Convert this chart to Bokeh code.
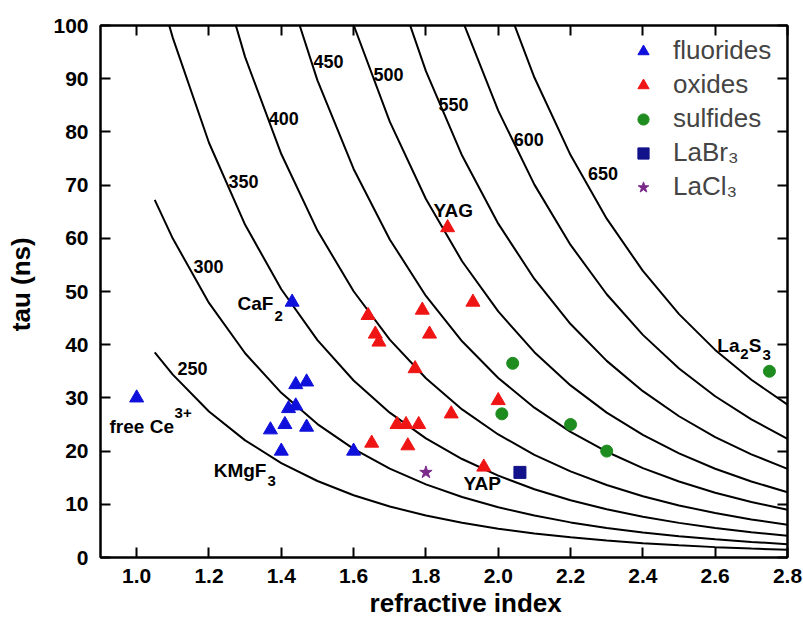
from bokeh.plotting import figure
from bokeh.models import Range1d, LinearAxis, FixedTicker, PrintfTickFormatter, Legend, LegendItem
from bokeh.core.properties import value
from bokeh.embed import file_html
from bokeh.resources import INLINE

# ---------------- data ----------------
x_ticks = [1.0, 1.2, 1.4, 1.6, 1.8, 2.0, 2.2, 2.4, 2.6, 2.8]
y_ticks = [0, 10, 20, 30, 40, 50, 60, 70, 80, 90, 100]

# refractive index grid on which the iso-wavelength curves were read
n_grid = [1.05, 1.1, 1.2, 1.3, 1.4, 1.5, 1.6, 1.7, 1.8, 1.9, 2.0,
          2.1, 2.2, 2.3, 2.4, 2.5, 2.6, 2.7, 2.8]

# tau (ns) of each curve, aligned to the tail of n_grid
tau_250 = [38.56, 34.38, 27.44, 22.02, 17.75, 14.38, 11.71, 9.59, 7.88, 6.52,
           5.41, 4.52, 3.79, 3.19, 2.70, 2.29, 1.95, 1.67, 1.44]
tau_300 = [67.23, 59.95, 47.85, 38.39, 30.95, 25.08, 20.42, 16.72, 13.75, 11.36,
           9.44, 7.88, 6.60, 5.56, 4.70, 3.99, 3.41, 2.92, 2.51]
tau_350 = [109.53, 97.67, 77.96, 62.54, 50.42, 40.86, 33.27, 27.23, 22.40, 18.51,
           15.38, 12.83, 10.76, 9.06, 7.66, 6.51, 5.55, 4.75, 4.08]
tau_400 = [117.25, 94.06, 75.84, 61.45, 50.05, 40.96, 33.69, 27.84, 23.13,
           19.30, 16.18, 13.62, 11.52, 9.79, 8.35, 7.15, 6.14]
tau_450 = [110.69, 89.69, 73.04, 59.78, 49.17, 40.64, 33.75, 28.16, 23.61,
           19.88, 16.81, 14.28, 12.18, 10.43, 8.96]
tau_500 = [122.91, 100.09, 81.92, 67.38, 55.69, 46.25, 38.59, 32.35, 27.24,
           23.04, 19.57, 16.69, 14.29, 12.28]
tau_550 = [111.14, 91.41, 75.56, 62.75, 52.36, 43.89, 36.96, 31.26, 26.55,
           22.64, 19.39, 16.66]
tau_600 = [122.37, 101.14, 84.00, 70.09, 58.76, 49.48, 41.85, 35.54, 30.31,
           25.95, 22.31]
tau_650 = [130.19, 108.13, 90.22, 75.64, 63.69, 53.87, 45.75, 39.02, 33.41, 28.72]

wavelengths = ["250", "300", "350", "400", "450", "500", "550", "600", "650"]
curves = [tau_250, tau_300, tau_350, tau_400, tau_450, tau_500, tau_550, tau_600, tau_650]

fluor_n = [1.00, 1.43, 1.44, 1.47, 1.42, 1.44, 1.41, 1.37, 1.47, 1.40, 1.60]
fluor_tau = [30, 48, 32.5, 33, 28, 28.5, 25, 24, 24.5, 20, 20]

oxide_n = [1.86, 1.93, 1.64, 1.66, 1.67, 1.79, 1.81, 1.77, 2.00, 1.87,
           1.72, 1.745, 1.78, 1.65, 1.75, 1.96]
oxide_tau = [62, 48, 45.5, 42, 40.5, 46.5, 42, 35.5, 29.5, 27,
             25, 25, 25, 21.5, 21, 17]

sulf_n = [2.04, 2.01, 2.20, 2.30, 2.75]
sulf_tau = [36.5, 27, 25, 20, 35]

labr_n = [2.06]
labr_tau = [16]

lacl_n = [1.80]
lacl_tau = [16]

# label placement (left edge / baseline, data units)
curve_lab_x = [1.113, 1.157, 1.254, 1.365, 1.489, 1.655, 1.835, 2.043, 2.248]
curve_lab_y = [35.6, 54.7, 70.7, 82.6, 93.3, 90.7, 85.2, 78.6, 72.1]

ann_text = ["YAG", "YAP", "CaF", "KMgF", "free Ce", "La", "S"]
ann_x = [1.821, 1.904, 1.279, 1.213, 0.925, 2.606, 2.693]
ann_y = [65.3, 13.9, 47.8, 16.4, 24.7, 39.9, 39.9]

sub_text = ["2", "3", "3+", "2", "3"]
sub_x = [1.381, 1.362, 1.105, 2.669, 2.731]
sub_y = [45.4, 14.4, 27.2, 38.3, 38.0]

FONT = "Liberation Sans"
NB = "\u00a0"

# ---------------- figure ----------------
p = figure(width=803, height=623, x_range=Range1d(0.9, 2.8), y_range=Range1d(0, 100),
           output_backend="svg", toolbar_location=None,
           min_border_left=100, min_border_right=16, min_border_top=25, min_border_bottom=66)
p.grid.visible = False
p.outline_line_color = "black"
p.outline_line_width = 2
p.background_fill_color = "white"
p.border_fill_color = "white"

p.add_layout(LinearAxis(), "above")
p.add_layout(LinearAxis(), "right")

for ax in p.xaxis:
    ax.ticker = FixedTicker(ticks=x_ticks)
    ax.formatter = PrintfTickFormatter(format="%.1f")
for ax in p.yaxis:
    ax.ticker = FixedTicker(ticks=y_ticks)
for ax in p.xaxis + p.yaxis:
    ax.axis_line_width = 2
    ax.major_tick_line_width = 2
    ax.major_tick_in = 10
    ax.major_tick_out = 0
    ax.minor_tick_line_color = None
    ax.major_label_text_font = FONT
    ax.major_label_text_font_style = "bold"
    ax.major_label_text_font_size = "21px"
    ax.major_label_text_color = "black"

for ax in [p.above[0], p.right[0]]:
    ax.major_label_text_font_size = "1px"
    ax.major_label_text_color = None
    ax.major_label_standoff = 0

xa = p.below[0]
xa.major_label_standoff = 11
xa.axis_label = NB * 6 + "refractive index"
xa.axis_label_text_font = FONT
xa.axis_label_text_font_style = "bold"
xa.axis_label_text_font_size = "26px"
xa.axis_label_text_color = "black"
xa.axis_label_standoff = 2

ya = p.left[0]
ya.major_label_standoff = 12
ya.axis_label = NB * 2 + "tau (ns)"
ya.axis_label_text_font = FONT
ya.axis_label_text_font_style = "bold"
ya.axis_label_text_font_size = "26px"
ya.axis_label_text_color = "black"
ya.axis_label_standoff = 14

# iso-wavelength curves
for tau in curves:
    xs = n_grid[len(n_grid) - len(tau):]
    p.line(xs, tau, line_color="black", line_width=2)

p.text(x=curve_lab_x, y=curve_lab_y, text=wavelengths, text_font=value(FONT),
       text_font_style="bold", text_font_size="18px", text_baseline="alphabetic",
       text_align="left", text_color="black")

# points
r_f = p.scatter(fluor_n, fluor_tau, marker="triangle", size=14, color="#1010dc")
r_o = p.scatter(oxide_n, oxide_tau, marker="triangle", size=14, color="#f01515")
r_s = p.scatter(sulf_n, sulf_tau, marker="circle", size=12, color="#1f8c1f")
r_b = p.scatter(labr_n, labr_tau, marker="square", size=12, color="#12128a")
r_c = p.scatter(lacl_n, lacl_tau, marker="star", size=13, color="#7a2a8a")

# annotations
p.text(x=ann_x, y=ann_y, text=ann_text, text_font=value(FONT), text_font_style="bold",
       text_font_size="19px", text_baseline="alphabetic", text_align="left", text_color="black")
p.text(x=sub_x, y=sub_y, text=sub_text, text_font=value(FONT), text_font_style="bold",
       text_font_size="15px", text_baseline="alphabetic", text_align="left", text_color="black")

legend = Legend(items=[LegendItem(label="fluorides", renderers=[r_f]),
                       LegendItem(label="oxides", renderers=[r_o]),
                       LegendItem(label="sulfides", renderers=[r_s]),
                       LegendItem(label="LaBr\u2083", renderers=[r_b]),
                       LegendItem(label="LaCl\u2083", renderers=[r_c])],
                location=(529, 355))
legend.border_line_color = None
legend.background_fill_alpha = 0
legend.label_text_font = FONT
legend.label_text_font_size = "26px"
legend.glyph_width = 28
legend.glyph_height = 28
legend.label_standoff = 16
legend.spacing = 3
legend.padding = 0
legend.margin = 0
legend.label_height = 28
p.add_layout(legend)

open("out.html", "w").write(file_html(p, INLINE))
